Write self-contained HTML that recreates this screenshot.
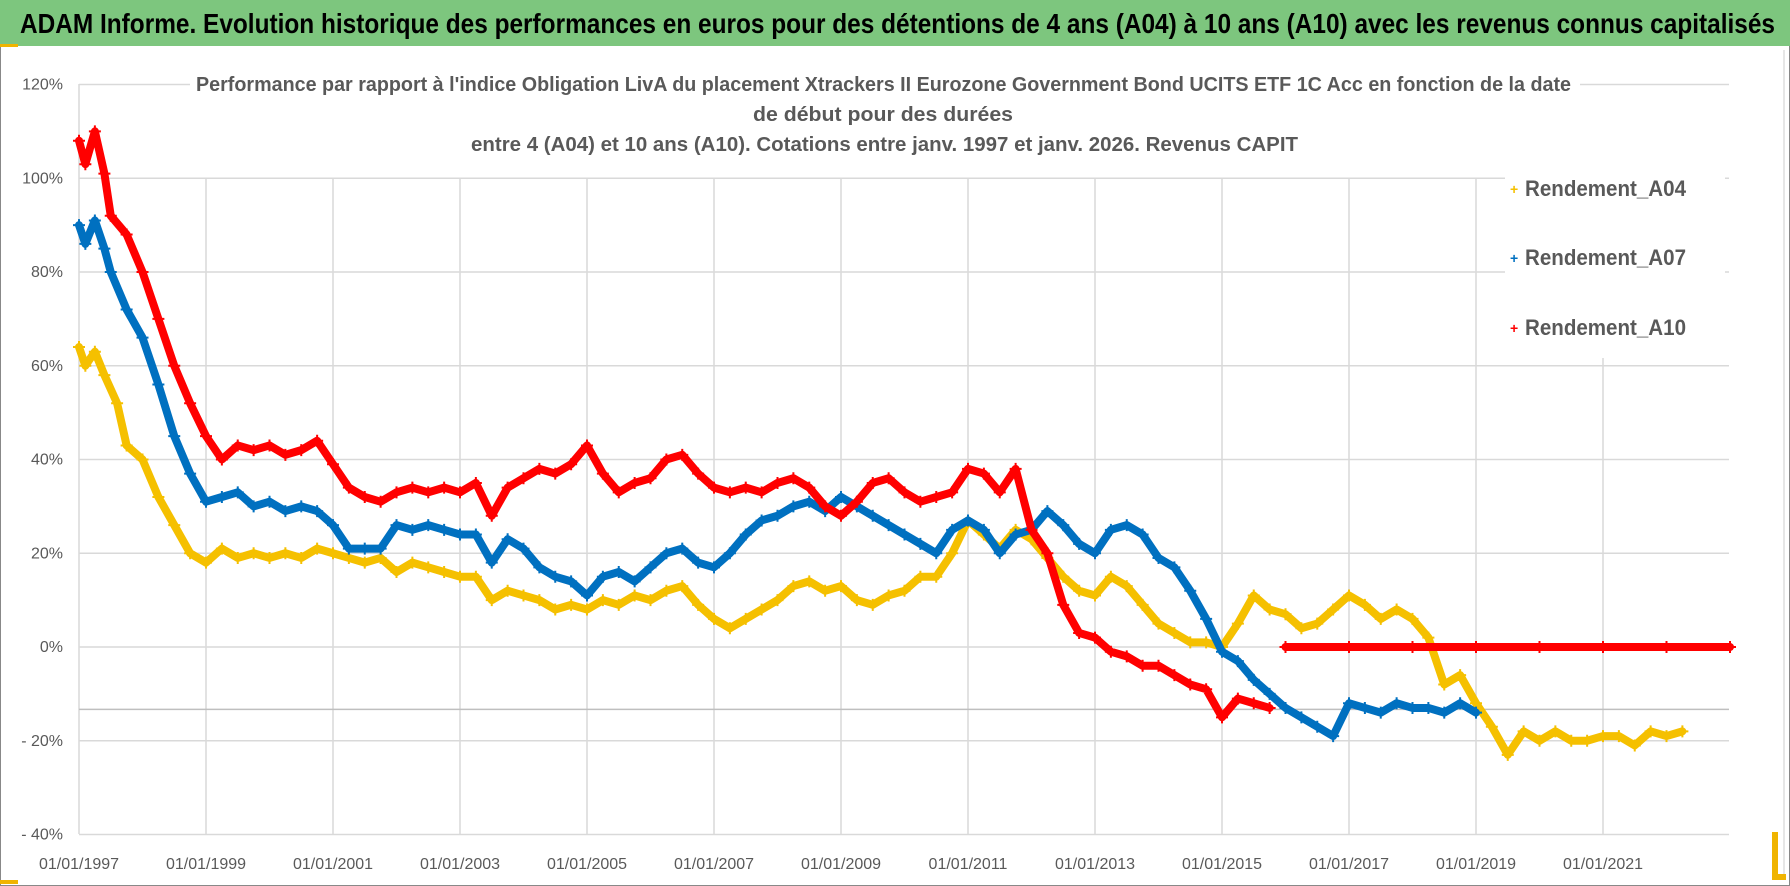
<!DOCTYPE html>
<html><head><meta charset="utf-8"><style>
html,body{margin:0;padding:0;background:#fff;}
svg{display:block;font-family:"Liberation Sans Narrow","Liberation Sans",sans-serif;}
</style></head><body>
<svg id="chart" width="1790" height="886" viewBox="0 0 1790 886" xmlns="http://www.w3.org/2000/svg">
<rect x="0" y="0" width="1790" height="886" fill="#fff"/>
<rect x="0.5" y="0.5" width="1789" height="885" fill="none" stroke="#888"/>
<rect x="0" y="0" width="1790" height="46" fill="#7dc67e"/>
<rect x="0" y="44" width="18" height="3" fill="#f0b400"/>
<text x="20" y="33" font-size="28" font-weight="bold" fill="#000" textLength="1755" lengthAdjust="spacingAndGlyphs">ADAM Informe. Evolution historique des performances en euros pour des détentions de 4 ans (A04) à 10 ans (A10) avec les revenus connus capitalisés</text>
<line x1="1784" y1="50" x2="1784" y2="880" stroke="#ccc"/>
<rect x="1772" y="832" width="6" height="48" fill="#f0b400"/>
<rect x="1772" y="874" width="14" height="6" fill="#f0b400"/>
<rect x="0" y="880" width="18" height="4" fill="#f0b400"/>
<g id="grid"></g>
<g id="series"></g>
<g id="axes"></g>
<g font-weight="bold" fill="#595959" font-size="20">
<rect x="190" y="66" width="1390" height="90" fill="#fff"/>
<text x="196" y="91" textLength="1375" lengthAdjust="spacingAndGlyphs">Performance par rapport à l'indice Obligation LivA  du placement Xtrackers II Eurozone Government Bond UCITS ETF 1C Acc en fonction de la date</text>
<text x="753" y="121" textLength="260" lengthAdjust="spacingAndGlyphs">de début pour des durées</text>
<text x="471" y="151" textLength="827" lengthAdjust="spacingAndGlyphs">entre 4 (A04) et 10 ans (A10).  Cotations entre janv. 1997 et janv. 2026. Revenus CAPIT</text>
</g>
<g id="legend" font-weight="bold" fill="#595959" font-size="22">
<rect x="1505" y="158" width="220" height="200" fill="#fff"/>
<g><text x="1510" y="194" fill="#f5c000" font-size="14">+</text><text x="1525" y="196" textLength="161" lengthAdjust="spacingAndGlyphs">Rendement_A04</text></g>
<g><text x="1510" y="263" fill="#0070c0" font-size="14">+</text><text x="1525" y="265" textLength="161" lengthAdjust="spacingAndGlyphs">Rendement_A07</text></g>
<g><text x="1510" y="333" fill="#ff0000" font-size="14">+</text><text x="1525" y="335" textLength="161" lengthAdjust="spacingAndGlyphs">Rendement_A10</text></g>
</g>
</svg>
<script>
const yTicks = [120,100,80,60,40,20,0,-20,-40];
const yTickLabels = ["120%","100%","80%","60%","40%","20%","0%","- 20%","- 40%"];
const xTickYears = [1997,1999,2001,2003,2005,2007,2009,2011,2013,2015,2017,2019,2021];
const xTickLabels = ["01/01/1997","01/01/1999","01/01/2001","01/01/2003","01/01/2005","01/01/2007","01/01/2009","01/01/2011","01/01/2013","01/01/2015","01/01/2017","01/01/2019","01/01/2021"];
const refLineValue = -13.3;
const datesA04 = [1997,1997.1,1997.25,1997.4,1997.6,1997.75,1998,1998.25,1998.5,1998.75,1999,1999.25,1999.5,1999.75,2000,2000.25,2000.5,2000.75,2001,2001.25,2001.5,2001.75,2002,2002.25,2002.5,2002.75,2003,2003.25,2003.5,2003.75,2004,2004.25,2004.5,2004.75,2005,2005.25,2005.5,2005.75,2006,2006.25,2006.5,2006.75,2007,2007.25,2007.5,2007.75,2008,2008.25,2008.5,2008.75,2009,2009.25,2009.5,2009.75,2010,2010.25,2010.5,2010.75,2011,2011.25,2011.5,2011.75,2012,2012.25,2012.5,2012.75,2013,2013.25,2013.5,2013.75,2014,2014.25,2014.5,2014.75,2015,2015.25,2015.5,2015.75,2016,2016.25,2016.5,2016.75,2017,2017.25,2017.5,2017.75,2018,2018.25,2018.5,2018.75,2019,2019.25,2019.5,2019.75,2020,2020.25,2020.5,2020.75,2021,2021.25,2021.5,2021.75,2022,2022.25];
const valuesA04 = [64,60,63,58,52,43,40,32,26,20,18,21,19,20,19,20,19,21,20,19,18,19,16,18,17,16,15,15,10,12,11,10,8,9,8,10,9,11,10,12,13,9,6,4,6,8,10,13,14,12,13,10,9,11,12,15,15,20,27,24,21,25,23,19,15,12,11,15,13,9,5,3,1,1,0,5,11,8,7,4,5,8,11,9,6,8,6,2,-8,-6,-12,-17,-23,-18,-20,-18,-20,-20,-19,-19,-21,-18,-19,-18];
const datesA07 = [1997,1997.1,1997.25,1997.4,1997.5,1997.75,1998,1998.25,1998.5,1998.75,1999,1999.25,1999.5,1999.75,2000,2000.25,2000.5,2000.75,2001,2001.25,2001.5,2001.75,2002,2002.25,2002.5,2002.75,2003,2003.25,2003.5,2003.75,2004,2004.25,2004.5,2004.75,2005,2005.25,2005.5,2005.75,2006,2006.25,2006.5,2006.75,2007,2007.25,2007.5,2007.75,2008,2008.25,2008.5,2008.75,2009,2009.25,2009.5,2009.75,2010,2010.25,2010.5,2010.75,2011,2011.25,2011.5,2011.75,2012,2012.25,2012.5,2012.75,2013,2013.25,2013.5,2013.75,2014,2014.25,2014.5,2014.75,2015,2015.25,2015.5,2015.75,2016,2016.25,2016.5,2016.75,2017,2017.25,2017.5,2017.75,2018,2018.25,2018.5,2018.75,2019];
const valuesA07 = [90,86,91,85,80,72,66,56,45,37,31,32,33,30,31,29,30,29,26,21,21,21,26,25,26,25,24,24,18,23,21,17,15,14,11,15,16,14,17,20,21,18,17,20,24,27,28,30,31,29,32,30,28,26,24,22,20,25,27,25,20,24,25,29,26,22,20,25,26,24,19,17,12,6,-1,-3,-7,-10,-13,-15,-17,-19,-12,-13,-14,-12,-13,-13,-14,-12,-14];
const datesA10 = [1997,1997.1,1997.25,1997.4,1997.5,1997.75,1998,1998.25,1998.5,1998.75,1999,1999.25,1999.5,1999.75,2000,2000.25,2000.5,2000.75,2001,2001.25,2001.5,2001.75,2002,2002.25,2002.5,2002.75,2003,2003.25,2003.5,2003.75,2004,2004.25,2004.5,2004.75,2005,2005.25,2005.5,2005.75,2006,2006.25,2006.5,2006.75,2007,2007.25,2007.5,2007.75,2008,2008.25,2008.5,2008.75,2009,2009.25,2009.5,2009.75,2010,2010.25,2010.5,2010.75,2011,2011.25,2011.5,2011.75,2012,2012.25,2012.5,2012.75,2013,2013.25,2013.5,2013.75,2014,2014.25,2014.5,2014.75,2015,2015.25,2015.5,2015.75];
const valuesA10 = [108,103,110,101,92,88,80,70,60,52,45,40,43,42,43,41,42,44,39,34,32,31,33,34,33,34,33,35,28,34,36,38,37,39,43,37,33,35,36,40,41,37,34,33,34,33,35,36,34,30,28,31,35,36,33,31,32,33,38,37,33,38,25,20,9,3,2,-1,-2,-4,-4,-6,-8,-9,-15,-11,-12,-13];
const datesA10flat = [2016,2017,2018,2019,2020,2021,2022,2023];
const valuesA10flat = [0,0,0,0,0,0,0,0];

const X0=79, PXY=63.5, Y0=647, PXP=4.6875, LEFT=79, RIGHT=1729, TOP=84, BOTTOM=834;
function xs(d){return X0+(d-1997)*PXY;}
function ys(v){return Y0-v*PXP;}
const NS="http://www.w3.org/2000/svg";
function mk(tag,attrs,parent){const e=document.createElementNS(NS,tag);for(const k in attrs)e.setAttribute(k,attrs[k]);parent.appendChild(e);return e;}
const grid=document.getElementById('grid'), axes=document.getElementById('axes'), ser=document.getElementById('series');
yTicks.forEach((t,i)=>{
  const l=mk('line',{x1:LEFT,x2:RIGHT,y1:ys(t),y2:ys(t),stroke:'#d9d9d9','stroke-width':1.5},grid);
  
  
  const tx=mk('text',{x:63,y:ys(t)+5,'text-anchor':'end','font-size':16,fill:'#595959'},axes);
  tx.textContent=yTickLabels[i];
  
  
});
xTickYears.forEach((yr,i)=>{
  const l=mk('line',{x1:xs(yr),x2:xs(yr),y1:(i===0?TOP:ys(100)),y2:BOTTOM,stroke:'#d9d9d9','stroke-width':1.5},grid);
  
  
  const tx=mk('text',{x:xs(yr),y:869,'text-anchor':'middle','font-size':16,fill:'#595959'},axes);
  tx.textContent=xTickLabels[i];
  
  
});
const rl=mk('line',{x1:LEFT,x2:RIGHT,y1:ys(refLineValue),y2:ys(refLineValue),stroke:'#bfbfbf','stroke-width':1.5},grid);


function drawSeries(dates,vals,color,name){
  const g=mk('g',{},ser);
  
  
  const pts=dates.map((d,i)=>xs(d)+','+ys(vals[i])).join(' ');
  mk('polyline',{points:pts,fill:'none',stroke:color,'stroke-width':8,'stroke-linejoin':'round','stroke-linecap':'round'},g);
  dates.forEach((d,i)=>{
    const x=xs(d),y=ys(vals[i]);
    const p=mk('path',{d:`M${x-6},${y}H${x+6}M${x},${y-6}V${y+6}`,stroke:color,'stroke-width':2},g);
    
    
  });
}
drawSeries(datesA04,valuesA04,'#f5c000','series-a04');
drawSeries(datesA07,valuesA07,'#0070c0','series-a07');
drawSeries(datesA10,valuesA10,'#ff0000','series-a10');
drawSeries(datesA10flat,valuesA10flat,'#ff0000','series-a10-flat');
</script>
</body></html>
